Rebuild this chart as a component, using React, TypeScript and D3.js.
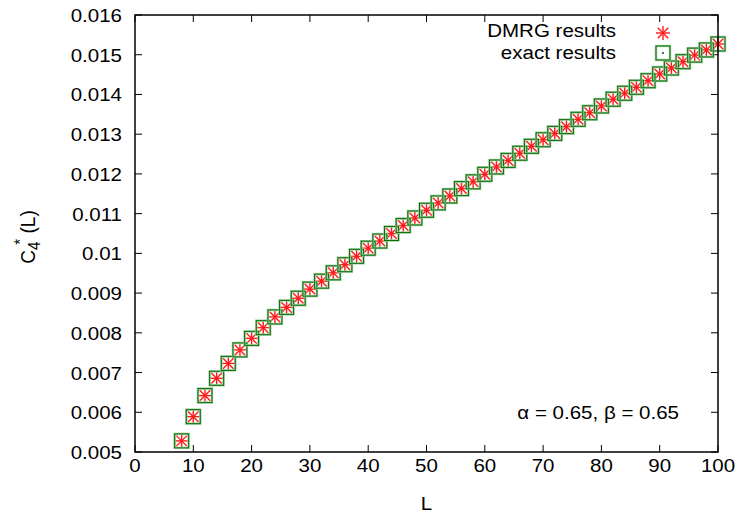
import React from 'react';
import * as d3 from 'd3';

// chain lengths L
const sizes = [8, 10, 12, 14, 16, 18, 20, 22, 24, 26, 28, 30, 32, 34, 36, 38, 40, 42, 44, 46, 48, 50,
  52, 54, 56, 58, 60, 62, 64, 66, 68, 70, 72, 74, 76, 78, 80, 82, 84, 86, 88, 90, 92, 94, 96, 98, 100];

// C4*(L) from DMRG
const dmrgValues = [0.00528, 0.00589, 0.00642, 0.006855, 0.00723, 0.00757, 0.00786, 0.00813, 0.0084,
  0.00864, 0.00887, 0.0091, 0.0093, 0.00951, 0.009715, 0.009925, 0.01013, 0.01031, 0.0105, 0.0107,
  0.01089, 0.011085, 0.01127, 0.011444, 0.01163, 0.0118, 0.01199, 0.012174, 0.01234, 0.01252,
  0.012695, 0.01286, 0.01302, 0.01319, 0.013374, 0.01354, 0.01371, 0.01388, 0.01403, 0.01418,
  0.014346, 0.014515, 0.014666, 0.014825, 0.01499, 0.01512, 0.01527];

// C4*(L) exact
const exactValues = [0.00528, 0.00589, 0.00642, 0.006855, 0.00723, 0.00757, 0.00786, 0.00813, 0.0084,
  0.00864, 0.00887, 0.0091, 0.0093, 0.00951, 0.009715, 0.009925, 0.01013, 0.01031, 0.0105, 0.0107,
  0.01089, 0.011085, 0.01127, 0.011444, 0.01163, 0.0118, 0.01199, 0.012174, 0.01234, 0.01252,
  0.012695, 0.01286, 0.01302, 0.01319, 0.013374, 0.01354, 0.01371, 0.01388, 0.01403, 0.01418,
  0.014346, 0.014515, 0.014666, 0.014825, 0.01499, 0.01512, 0.01527];

const xTicks = [0, 10, 20, 30, 40, 50, 60, 70, 80, 90, 100];
const yTicks = [0.005, 0.006, 0.007, 0.008, 0.009, 0.01, 0.011, 0.012, 0.013, 0.014, 0.015, 0.016];

const width = 741;
const height = 513;
const margin = { left: 135, right: 23, top: 15, bottom: 61 };
const font = '"Liberation Sans", Arial, sans-serif';
const fs = 19;
const stretch = 1.08;

const x = d3.scaleLinear().domain([0, 100]).range([margin.left, width - margin.right]);
const y = d3.scaleLinear().domain([0.005, 0.016]).range([height - margin.bottom, margin.top]);

const Label = ({ x: px, y: py, anchor = 'middle', children }: any) => (
  <text transform={`translate(${px},${py}) scale(${stretch},1)`} textAnchor={anchor}
    fontFamily={font} fontSize={fs} fill="#000">{children}</text>
);

const Star = ({ cx, cy, r = 7 }: any) => {
  const d = r * 0.75;
  return (
    <g stroke="#ff1a1a" strokeWidth={1.4}>
      <line x1={cx - r} y1={cy} x2={cx + r} y2={cy} />
      <line x1={cx} y1={cy - r} x2={cx} y2={cy + r} />
      <line x1={cx - d} y1={cy - d} x2={cx + d} y2={cy + d} />
      <line x1={cx - d} y1={cy + d} x2={cx + d} y2={cy - d} />
    </g>
  );
};

const Box = ({ cx, cy, s = 14 }: any) => (
  <g fill="none">
    <rect x={cx - s / 2} y={cy - s / 2} width={s} height={s} stroke="#9ccc9c" strokeWidth={2.4} />
    <rect x={cx - s / 2} y={cy - s / 2} width={s} height={s} stroke="#0a6e0a" strokeWidth={1} />
  </g>
);

export default function App() {
  const x0 = x.range()[0], x1 = x.range()[1];
  const y0 = y.range()[0], y1 = y.range()[1];
  const tl = 7;
  return (
    <svg width={width} height={height} style={{ position: 'absolute', left: 0, top: 0, background: '#fff' }}>
      {/* ticks */}
      <g stroke="#000" strokeWidth={1}>
        {xTicks.map(t => (
          <g key={'x' + t}>
            <line x1={x(t)} x2={x(t)} y1={y0} y2={y0 - tl} />
            <line x1={x(t)} x2={x(t)} y1={y1} y2={y1 + tl} />
          </g>
        ))}
        {yTicks.map(t => (
          <g key={'y' + t}>
            <line x1={x0} x2={x0 + tl} y1={y(t)} y2={y(t)} />
            <line x1={x1} x2={x1 - tl} y1={y(t)} y2={y(t)} />
          </g>
        ))}
      </g>
      {xTicks.map(t => (
        <Label key={'xl' + t} x={x(t)} y={y0 + 20}>{t}</Label>
      ))}
      {yTicks.map(t => (
        <Label key={'yl' + t} x={x0 - 13} y={y(t) + 7} anchor="end">{String(+t.toFixed(3))}</Label>
      ))}
      <Label x={(x0 + x1) / 2} y={510}>L</Label>
      <text transform={`translate(35,237) rotate(-90) scale(1,${stretch})`} textAnchor="middle"
        fontFamily={font} fontSize={fs} fill="#000">
        <tspan>C</tspan>
        <tspan dy={5} fontSize={15}>4</tspan>
        <tspan dy={-13} dx={-3} fontSize={15}>*</tspan>
        <tspan dy={8}> (L)</tspan>
      </text>
      <Label x={679} y={419} anchor="end">α = 0.65, β = 0.65</Label>

      {/* series */}
      {sizes.map((L, i) => <Star key={'s' + L} cx={x(L)} cy={y(dmrgValues[i])} />)}
      {sizes.map((L, i) => <Box key={'b' + L} cx={x(L)} cy={y(exactValues[i])} />)}

      {/* legend */}
      <Label x={616} y={37} anchor="end">DMRG results</Label>
      <Star cx={663} cy={33} />
      <Label x={616} y={59} anchor="end">exact results</Label>
      <Box cx={663} cy={53} />
      <rect x={662} y={52} width={2} height={2} fill="#2a8a2a" />

      {/* frame */}
      <rect x={x0} y={y1} width={x1 - x0} height={y0 - y1} fill="none" stroke="#000" strokeWidth={1.5} />
    </svg>
  );
}
